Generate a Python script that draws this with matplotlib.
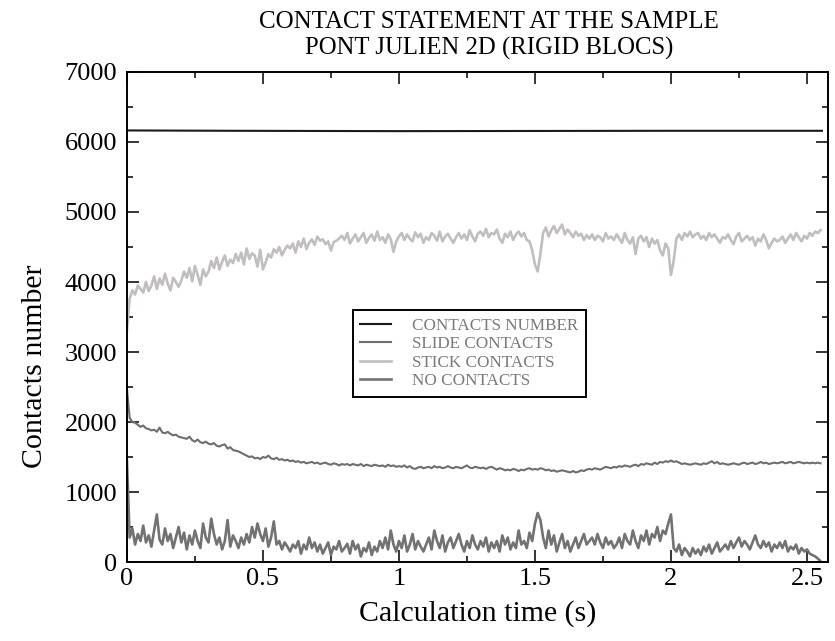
import numpy as np
import matplotlib
matplotlib.use("Agg")
import matplotlib.pyplot as plt
from matplotlib.ticker import MultipleLocator

# -----------------------------
# Data (step 0.01 s)
# -----------------------------
time_s = np.round(np.arange(0, 256) * 0.01, 2)

contacts_t = [0.0, 0.4, 1.0, 2.0, 2.555]
contacts_number = [6165, 6160, 6155, 6160, 6160]

slide_contacts = [
    2480, 2060, 2000, 1990, 1960, 1930, 1950, 1910, 1900, 1880,
    1890, 1860, 1920, 1850, 1840, 1860, 1830, 1810, 1820, 1790,
    1780, 1770, 1760, 1790, 1740, 1720, 1750, 1710, 1700, 1720,
    1690, 1680, 1700, 1660, 1650, 1670, 1680, 1620, 1640, 1600,
    1590, 1580, 1560, 1540, 1520, 1500, 1510, 1480, 1490, 1470,
    1500, 1490, 1520, 1480, 1470, 1490, 1460, 1470, 1450, 1460,
    1440, 1450, 1430, 1440, 1420, 1430, 1410, 1420, 1430, 1410,
    1420, 1400, 1410, 1420, 1400, 1390, 1410, 1400, 1380, 1400,
    1390, 1400, 1380, 1400, 1390, 1380, 1400, 1370, 1390, 1380,
    1370, 1390, 1380, 1370, 1380, 1360, 1390, 1370, 1380, 1360,
    1370, 1360, 1380, 1350, 1370, 1340, 1330, 1350, 1360, 1340,
    1350, 1360, 1340, 1370, 1350, 1360, 1340, 1350, 1370, 1350,
    1340, 1360, 1350, 1340, 1360, 1380, 1350, 1340, 1360, 1350,
    1340, 1350, 1330, 1350, 1360, 1340, 1320, 1340, 1330, 1310,
    1320, 1310, 1330, 1320, 1300, 1320, 1310, 1330, 1340, 1320,
    1330, 1320, 1340, 1330, 1310, 1320, 1300, 1310, 1290, 1300,
    1310, 1300, 1290, 1280, 1300, 1280, 1290, 1310, 1300, 1320,
    1330, 1320, 1340, 1330, 1320, 1340, 1360, 1350, 1340, 1360,
    1350, 1370, 1360, 1380, 1370, 1360, 1380, 1390, 1370, 1400,
    1390, 1410, 1400, 1390, 1420, 1400, 1430, 1420, 1440, 1430,
    1450, 1430, 1440, 1420, 1400, 1410, 1400, 1390, 1400, 1410,
    1400, 1390, 1410, 1400, 1420, 1440, 1410, 1430, 1400, 1410,
    1400, 1390, 1400, 1410, 1400, 1390, 1410, 1420, 1400, 1410,
    1420, 1400, 1410, 1430, 1410, 1420, 1400, 1410, 1420, 1410,
    1420, 1430, 1410, 1420, 1430, 1410, 1420, 1430, 1420, 1410,
    1420, 1410, 1420, 1410, 1420, 1410,
]

stick_contacts = [
    3300, 3760, 3880, 3820, 3950, 3900, 3850, 4000, 3870, 3950,
    4080, 3900, 4050, 3960, 4120, 3980, 3880, 4060, 4000, 3930,
    4020, 4150, 4060, 4200, 4010, 4230, 4100, 3960, 4180, 4080,
    4150, 4300, 4200, 4350, 4180, 4290, 4380, 4230, 4320, 4270,
    4400, 4300, 4420, 4250, 4480, 4330, 4410, 4380, 4220, 4460,
    4180, 4280, 4400, 4350, 4470, 4420, 4500, 4380, 4460, 4520,
    4480, 4550, 4420, 4580, 4500, 4620, 4470, 4560, 4610, 4530,
    4650, 4590, 4610, 4540, 4580, 4450, 4570, 4590, 4620, 4660,
    4600, 4700, 4550, 4620, 4680, 4580, 4640, 4700, 4560, 4630,
    4680, 4590, 4720, 4600, 4640, 4560, 4680, 4610, 4430, 4580,
    4650, 4700, 4600, 4680, 4620, 4580, 4710, 4640, 4690, 4560,
    4640, 4600, 4700, 4660, 4590, 4720, 4580, 4650, 4690, 4620,
    4560, 4640, 4700, 4620, 4680, 4600, 4740, 4650, 4580, 4690,
    4720, 4660, 4760, 4640, 4700, 4680, 4750, 4620, 4560, 4690,
    4640, 4720, 4600, 4680, 4720, 4650, 4700, 4600, 4580, 4450,
    4250, 4150, 4400, 4700, 4780, 4650, 4740, 4800, 4700, 4760,
    4820, 4680, 4750, 4700, 4640, 4720, 4660, 4690, 4600, 4670,
    4620, 4680, 4600, 4660, 4640, 4580, 4700, 4620, 4650, 4600,
    4680, 4620, 4560, 4700, 4600, 4550, 4640, 4400, 4620, 4660,
    4580, 4640, 4500, 4620, 4550, 4600, 4450, 4380, 4550, 4480,
    4100, 4300, 4620, 4680, 4600, 4700, 4650, 4720, 4640, 4680,
    4700, 4620, 4660, 4600, 4700, 4640, 4680, 4620, 4560, 4640,
    4620, 4680, 4600, 4540, 4650, 4700, 4580, 4620, 4660, 4600,
    4640, 4520, 4620, 4580, 4680, 4600, 4480, 4560, 4620, 4580,
    4600, 4650, 4560, 4620, 4680, 4600, 4700, 4640, 4580, 4660,
    4620, 4700, 4660, 4720, 4700, 4740,
]

no_contacts = [
    1450, 350, 480, 250, 400, 300, 520, 280, 380, 220,
    450, 680, 320, 250, 480, 300, 400, 200, 350, 500,
    280, 420, 180, 380, 250, 450, 300, 200, 550, 350,
    280, 620, 400, 250, 350, 180, 300, 600, 220, 380,
    300, 200, 350, 250, 400, 280, 500, 350, 550, 400,
    300, 480, 220, 350, 580, 250, 300, 180, 280, 220,
    150, 250, 200, 300, 120, 250, 180, 350, 200, 280,
    150, 250, 120, 200, 280, 100, 220, 180, 300, 150,
    200, 260, 120, 300, 180, 250, 80, 200, 150, 280,
    100, 220, 150, 300, 200, 350, 180, 450, 250, 150,
    300, 200, 380, 150, 250, 400, 180, 300, 220, 150,
    250, 350, 180, 450, 300, 200, 380, 150, 280, 350,
    200, 300, 400, 250, 150, 300, 200, 380, 250, 180,
    300, 220, 350, 150, 280, 200, 300, 150, 380, 250,
    350, 180, 280, 200, 450, 250, 300, 200, 420, 300,
    550, 700, 600, 350, 200, 450, 250, 380, 150, 280,
    400, 200, 300, 150, 250, 350, 200, 300, 400, 250,
    300, 350, 250, 400, 280, 200, 350, 250, 300, 200,
    250, 350, 200, 400, 300, 250, 450, 300, 200, 380,
    300, 450, 250, 400, 350, 500, 300, 450, 400, 550,
    680, 200, 150, 250, 100, 200, 150, 80, 200, 120,
    180, 100, 220, 150, 250, 120, 200, 280, 150, 200,
    250, 180, 300, 200, 280, 350, 220, 300, 250, 180,
    280, 380, 250, 200, 300, 220, 280, 150, 250, 200,
    280, 200, 300, 150, 220, 180, 250, 120, 200, 150,
    180, 120, 100, 80, 50, 10,
]

# -----------------------------
# Plot
# -----------------------------
plt.rcParams['font.family'] = ['Liberation Serif', 'DejaVu Serif']

fig = plt.figure(figsize=(8.35, 6.41), dpi=100)
ax = fig.add_axes([0.152, 0.1232, 0.8395, 0.7645])

ax.plot(contacts_t, contacts_number, color='#1a1a1a', lw=1.5, label='CONTACTS NUMBER')
ax.plot(time_s, slide_contacts, color='#6e6e6e', lw=1.5, label='SLIDE CONTACTS')
ax.plot(time_s, stick_contacts, color='#c2bebe', lw=1.9, label='STICK CONTACTS')
ax.plot(time_s, no_contacts, color='#727272', lw=1.9, label='NO CONTACTS')

ax.set_xlim(0, 2.577)
ax.set_ylim(0, 7000)
ax.xaxis.set_major_locator(MultipleLocator(0.5))
ax.xaxis.set_minor_locator(MultipleLocator(0.25))
ax.yaxis.set_major_locator(MultipleLocator(1000))
ax.yaxis.set_minor_locator(MultipleLocator(500))
ax.set_xticks([0, 0.5, 1, 1.5, 2, 2.5])
ax.set_xticklabels(['0', '0.5', '1', '1.5', '2', '2.5'])
ax.tick_params(which='both', direction='in', top=True, right=True, width=1.1, labelsize=19)
ax.tick_params(which='major', length=8.5)
ax.tick_params(axis='y', which='major', pad=7)
ax.tick_params(axis='x', which='major', pad=4)
ax.tick_params(which='minor', length=4.5)
for s in ax.spines.values():
    s.set_linewidth(1.4)

ax.set_xlabel('Calculation time (s)', fontsize=21.5)
ax.xaxis.set_label_coords(0.5, -0.078)
ax.set_ylabel('Contacts number', fontsize=21.5)
ax.yaxis.set_label_coords(-0.112, 0.40)

fig.text(0.586, 0.966, 'CONTACT STATEMENT AT THE SAMPLE', ha='center', va='center', fontsize=18)
fig.text(0.586, 0.925, 'PONT JULIEN 2D (RIGID BLOCS)', ha='center', va='center', fontsize=17.8)

leg = ax.legend(loc='upper left', bbox_to_anchor=(0.322, 0.514), borderaxespad=0,
                fancybox=False, edgecolor='black', framealpha=1, fontsize=12.3,
                handlelength=1.8, handletextpad=1.2, labelspacing=0.14, borderpad=0.45)
leg.get_frame().set_linewidth(1.4)
for t in leg.get_texts():
    t.set_color('#7a7a7a')

fig.savefig('out.png', dpi=100)
